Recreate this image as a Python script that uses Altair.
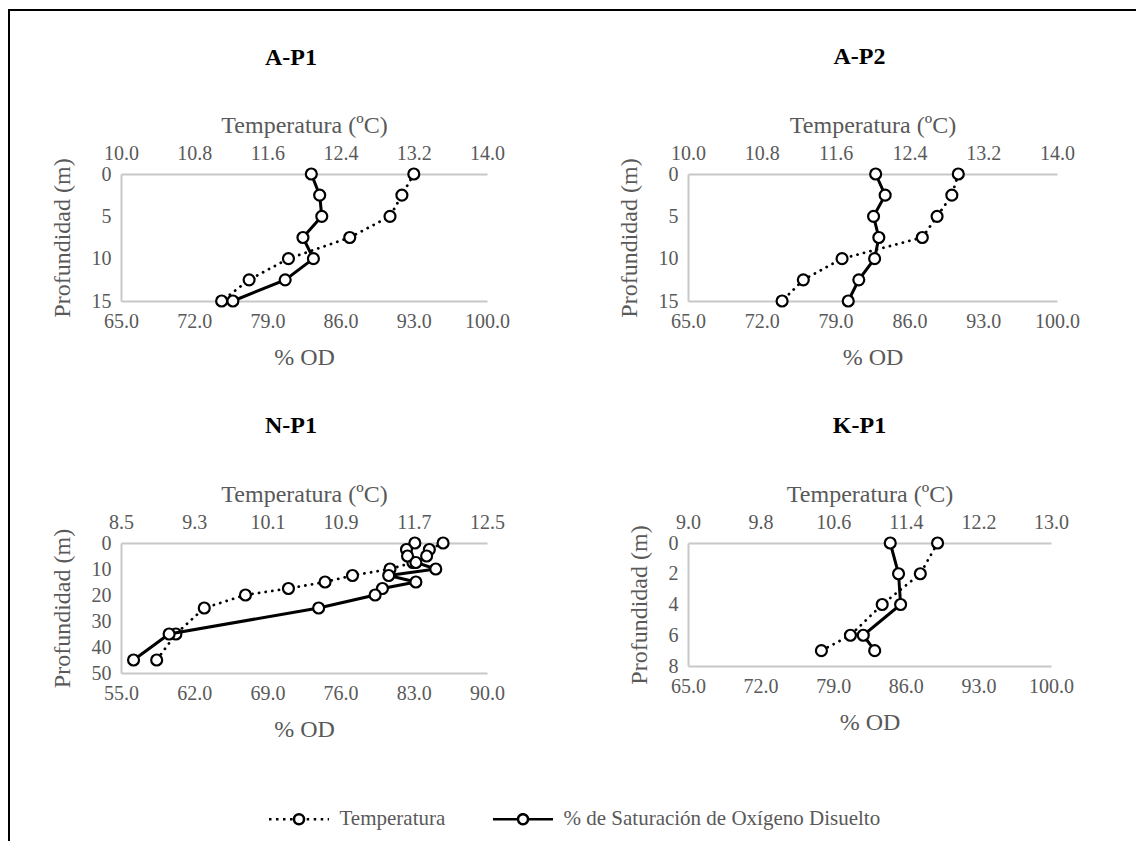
import altair as alt
import pandas as pd

FONT = "Liberation Serif"
GRAY = "#595959"
AXIS_GRAY = "#C8C8C8"

# ---------------- data ----------------
ap1_depth = [0, 2.5, 5, 7.5, 10, 12.5, 15]
ap1_temp = [13.20, 13.07, 12.94, 12.50, 11.83, 11.40, 11.10]
ap1_od = [83.2, 84.0, 84.2, 82.4, 83.4, 80.7, 75.7]

ap2_depth = [0, 2.5, 5, 7.5, 10, 12.5, 15]
ap2_temp = [12.93, 12.86, 12.70, 12.54, 11.67, 11.25, 11.02]
ap2_od = [82.8, 83.7, 82.6, 83.1, 82.7, 81.2, 80.2]

np1_depth = [0, 2.5, 5, 7.5, 10, 12.5, 15, 17.5, 20, 25, 35, 45]
np1_temp = [12.02, 11.87, 11.84, 11.69, 11.44, 11.03, 10.73, 10.33, 9.86, 9.41, 9.10, 8.89]
np1_od = [83.1, 82.3, 82.4, 83.2, 85.1, 80.6, 83.2, 80.0, 79.3, 73.9, 59.6, 56.2]

kp1_depth = [0, 2, 4, 6, 7]
kp1_temp = [11.75, 11.56, 11.14, 10.79, 10.47]
kp1_od = [84.5, 85.3, 85.5, 81.9, 83.0]

ticks_temp_a = [10.0, 10.8, 11.6, 12.4, 13.2, 14.0]
ticks_temp_n = [8.5, 9.3, 10.1, 10.9, 11.7, 12.5]
ticks_temp_k = [9.0, 9.8, 10.6, 11.4, 12.2, 13.0]
ticks_od_a = [65.0, 72.0, 79.0, 86.0, 93.0, 100.0]
ticks_od_n = [55.0, 62.0, 69.0, 76.0, 83.0, 90.0]
ticks_depth_a = [0, 5, 10, 15]
ticks_depth_n = [0, 10, 20, 30, 40, 50]
ticks_depth_k = [0, 2, 4, 6, 8]

series_names = ["Temperatura", "% de Saturación de Oxígeno Disuelto"]

# ---------------- legend symbol (line with a circle in the middle) ----------------
r = 0.16667
LEG_PATH = (f"M-1,0L{-r},0A{r},{r},0,1,1,{r},0A{r},{r},0,1,1,{-r},0"
            f"A{r},{r},0,1,1,{r},0L1,0")
DOT_DASH = [2.5, 4.5, 2.5, 4.5, 2.5, 4.5, 2.5, 1.5, 47.12, 1.5,
            2.5, 4.5, 2.5, 4.5, 2.5, 4.5, 2.5, 10]
SOLID_DASH = [1, 0]


def panel(title, depth, temp, od, t_ticks, od_ticks, d_ticks, w, h, dx, toff=25, extra=None):
    df = pd.DataFrame({"depth": depth, "temp": temp, "od": od})
    base = alt.Chart(df)
    y = alt.Y("depth:Q",
              scale=alt.Scale(domain=[d_ticks[0], d_ticks[-1]], reverse=True, nice=False, zero=False),
              axis=alt.Axis(values=d_ticks, format="d", title="Profundidad (m)",
                            labelPadding=10, titlePadding=17))
    tx = alt.X("temp:Q",
               scale=alt.Scale(domain=[t_ticks[0], t_ticks[-1]], nice=False, zero=False),
               axis=alt.Axis(orient="top", values=t_ticks, format=".1f",
                             title="Temperatura (ºC)", labelPadding=11, titlePadding=6))
    ox = alt.X("od:Q",
               scale=alt.Scale(domain=[od_ticks[0], od_ticks[-1]], nice=False, zero=False),
               axis=alt.Axis(orient="bottom", values=od_ticks, format=".1f",
                             title="% OD", labelPadding=10, titlePadding=14))
    t_line = base.mark_line(color="black", strokeWidth=2.8, strokeDash=[0.1, 6.6],
                            strokeCap="round").encode(x=tx, y=y, order=alt.Order("depth:Q"))
    t_pts = base.mark_point(shape="circle", filled=True, fill="white", stroke="black",
                            strokeWidth=2.2, size=120, opacity=1).encode(x=tx, y=y)
    o_line = base.mark_line(color="black", strokeWidth=3).encode(
        x=ox, y=y, order=alt.Order("depth:Q"))
    o_pts = base.mark_point(shape="circle", filled=True, fill="white", stroke="black",
                            strokeWidth=2.2, size=120, opacity=1).encode(x=ox, y=y)
    layers = [alt.layer(t_line, t_pts), alt.layer(o_line, o_pts)]
    if extra:
        layers += extra
    return alt.layer(*layers).resolve_scale(x="independent").properties(
        width=w, height=h,
        title=alt.TitleParams(title, font=FONT, fontSize=24, fontWeight="bold",
                              color="black", offset=toff, dx=dx, baseline="alphabetic",
                              anchor="middle", frame="group"))


# frame of the figure (decoration) and legend source
frame_df = pd.DataFrame({"k": [0]})
frame_top = alt.Chart(frame_df).mark_rule(color="black", strokeWidth=2).encode(
    x=alt.value(-113), x2=alt.value(1015), y=alt.value(-164))
frame_left = alt.Chart(frame_df).mark_rule(color="black", strokeWidth=2).encode(
    x=alt.value(-112), y=alt.value(-165), y2=alt.value(667))

leg_df = pd.DataFrame({"series": series_names})
legend_layer = alt.Chart(leg_df).mark_line(color="black", opacity=0).encode(
    strokeDash=alt.StrokeDash(
        "series:N",
        scale=alt.Scale(domain=series_names, range=[DOT_DASH, SOLID_DASH]),
        legend=alt.Legend(title=None, orient="none", direction="horizontal",
                          legendX=146.5, legendY=613.5, padding=0,
                          symbolType=LEG_PATH, symbolSize=3600, symbolStrokeWidth=2.5,
                          symbolStrokeColor="black", symbolOpacity=1,
                          labelFont=FONT, labelFontSize=21, labelColor=GRAY,
                          labelOffset=9, columnPadding=42, labelLimit=600)))

p1 = panel("A-P1", ap1_depth, ap1_temp, ap1_od, ticks_temp_a, ticks_od_a, ticks_depth_a,
           366, 127, -13, toff=-81, extra=[frame_top, frame_left, legend_layer])
p2 = panel("A-P2", ap2_depth, ap2_temp, ap2_od, ticks_temp_a, ticks_od_a, ticks_depth_a,
           369, 127, -13)
p3 = panel("N-P1", np1_depth, np1_temp, np1_od, ticks_temp_n, ticks_od_n, ticks_depth_n,
           366, 130, -13)
p4 = panel("K-P1", kp1_depth, kp1_temp, kp1_od, ticks_temp_k, ticks_od_a, ticks_depth_k,
           363, 123, -10)

chart = alt.concat(p1, p2, p3, p4, columns=2,
                   spacing={"row": 239, "column": 198},
                   bounds="flush", align="all").properties(
    padding={"left": 7, "top": 8, "right": 0, "bottom": 0},
    background="white"
).configure_view(stroke=None).configure_axis(
    labelFont=FONT, labelFontSize=20, labelColor=GRAY,
    titleFont=FONT, titleFontSize=24, titleFontWeight="normal", titleColor=GRAY,
    domainColor=AXIS_GRAY, domainWidth=2, ticks=False, tickSize=0, grid=False,
    labelFlush=False, labelOverlap=False
)

chart.save("out.html", embed_options={"renderer": "svg", "actions": False})
